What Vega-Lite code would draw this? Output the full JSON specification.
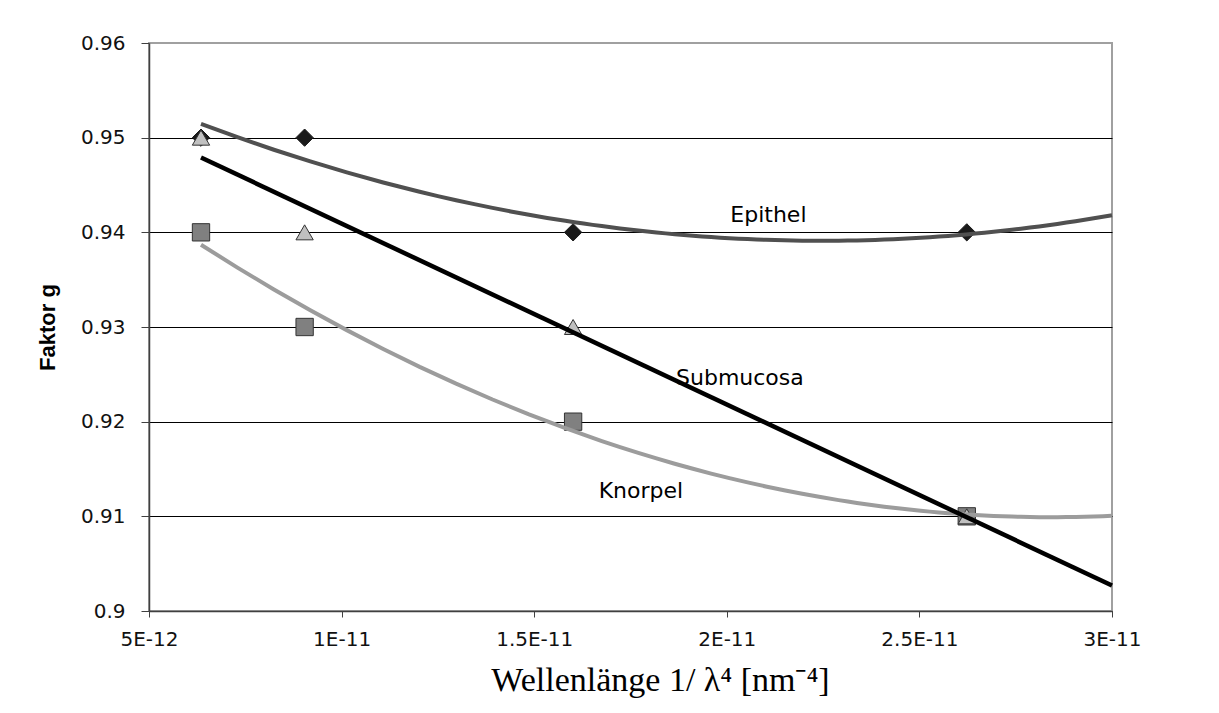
{
  "$schema": "https://vega.github.io/schema/vega-lite/v6.json",
  "width": 963,
  "height": 568,
  "autosize": {"type": "none"},
  "padding": {"left": 149, "top": 43, "right": 107, "bottom": 102},
  "background": "white",
  "config": {"view": {"stroke": "#a0a0a0", "strokeWidth": 2}, "font": "DejaVu Sans"},
  "datasets": {
    "points": [
      {"x": 6.35e-12, "g": 0.95, "series": "Epithel"},
      {"x": 9.04e-12, "g": 0.95, "series": "Epithel"},
      {"x": 1.601e-11, "g": 0.94, "series": "Epithel"},
      {"x": 2.623e-11, "g": 0.94, "series": "Epithel"},
      {"x": 6.35e-12, "g": 0.94, "series": "Knorpel"},
      {"x": 9.04e-12, "g": 0.93, "series": "Knorpel"},
      {"x": 1.601e-11, "g": 0.92, "series": "Knorpel"},
      {"x": 2.623e-11, "g": 0.91, "series": "Knorpel"},
      {"x": 6.35e-12, "g": 0.95, "series": "Submucosa"},
      {"x": 9.04e-12, "g": 0.94, "series": "Submucosa"},
      {"x": 1.601e-11, "g": 0.93, "series": "Submucosa"},
      {"x": 2.623e-11, "g": 0.91, "series": "Submucosa"}
    ],
    "labels": [
      {"x": 2.108e-11, "g": 0.94106, "label": "Epithel"},
      {"x": 2.034e-11, "g": 0.92387, "label": "Submucosa"},
      {"x": 1.777e-11, "g": 0.91194, "label": "Knorpel"}
    ]
  },
  "encoding": {
    "x": {
      "field": "x",
      "type": "quantitative",
      "scale": {"domain": [5e-12, 3e-11], "nice": false, "zero": false},
      "axis": {
        "title": "Wellenlänge 1/ λ⁴ [nm⁻⁴]",
        "values": [5e-12, 1e-11, 1.5e-11, 2e-11, 2.5e-11, 3e-11],
        "labelExpr": "replace(format(datum.value, '.2~e'), 'e', 'E')",
        "grid": false,
        "domainColor": "#404040",
        "domainWidth": 1.5,
        "tickColor": "#404040",
        "tickSize": 6,
        "labelFont": "DejaVu Sans",
        "labelFontSize": 20,
        "labelColor": "#111111",
        "labelPadding": 12,
        "labelFlush": false,
        "labelOverlap": false,
        "titleFont": "Liberation Serif",
        "titleFontSize": 34,
        "titleFontWeight": "normal",
        "titleColor": "#000000",
        "titlePadding": 14,
        "titleX": 511,
        "titleAlign": "center"
      }
    },
    "y": {
      "field": "g",
      "type": "quantitative",
      "scale": {"domain": [0.9, 0.96], "nice": false, "zero": false},
      "axis": {
        "title": "Faktor g",
        "values": [0.9, 0.91, 0.92, 0.93, 0.94, 0.95, 0.96],
        "format": ".2~f",
        "grid": true,
        "gridColor": {"condition": {"test": "datum.value >= 0.959", "value": "#a0a0a0"}, "value": "#000000"},
        "gridWidth": 1.2,
        "domainColor": "#404040",
        "domainWidth": 1.5,
        "tickColor": "#404040",
        "tickSize": 8,
        "labelFont": "DejaVu Sans",
        "labelFontSize": 20,
        "labelColor": "#111111",
        "labelPadding": 16,
        "labelFlush": false,
        "labelOverlap": false,
        "titleFont": "Liberation Sans",
        "titleFontSize": 22,
        "titleFontWeight": "bold",
        "titleColor": "#000000",
        "titlePadding": 21
      }
    }
  },
  "layer": [
    {
      "data": {"name": "points"},
      "mark": {"type": "point", "filled": true, "size": 300, "strokeWidth": 1, "opacity": 1},
      "encoding": {
        "shape": {"field": "series", "type": "nominal", "scale": {"domain": ["Epithel", "Knorpel", "Submucosa"], "range": ["diamond", "square", "triangle-up"]}, "legend": null},
        "fill": {"field": "series", "type": "nominal", "scale": {"domain": ["Epithel", "Knorpel", "Submucosa"], "range": ["#1a1a1a", "#808080", "#c0c0c0"]}, "legend": null},
        "stroke": {"field": "series", "type": "nominal", "scale": {"domain": ["Epithel", "Knorpel", "Submucosa"], "range": ["#1a1a1a", "#333333", "#333333"]}, "legend": null}
      }
    },
    {
      "data": {"name": "points"},
      "transform": [
        {"filter": "datum.series === 'Epithel'"},
        {"regression": "g", "on": "x", "method": "poly", "order": 2, "extent": [6.35e-12, 3e-11]}
      ],
      "mark": {"type": "line", "color": "#505050", "strokeWidth": 4},
      "encoding": {}
    },
    {
      "data": {"name": "points"},
      "transform": [
        {"filter": "datum.series === 'Knorpel'"},
        {"regression": "g", "on": "x", "method": "poly", "order": 2, "extent": [6.35e-12, 3e-11]}
      ],
      "mark": {"type": "line", "color": "#9c9c9c", "strokeWidth": 4},
      "encoding": {}
    },
    {
      "data": {"name": "points"},
      "transform": [
        {"filter": "datum.series === 'Submucosa'"},
        {"regression": "g", "on": "x", "method": "linear", "extent": [6.35e-12, 3e-11]}
      ],
      "mark": {"type": "line", "color": "#000000", "strokeWidth": 4.5},
      "encoding": {}
    },
    {
      "data": {"name": "labels"},
      "mark": {"type": "text", "font": "DejaVu Sans", "fontSize": 22, "align": "center", "baseline": "alphabetic", "color": "#000000"},
      "encoding": {"text": {"field": "label", "type": "nominal"}}
    }
  ]
}
